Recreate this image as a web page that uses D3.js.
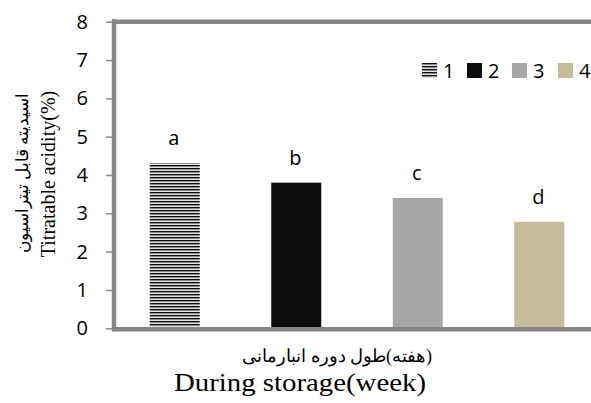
<!DOCTYPE html>
<html><head><meta charset="utf-8">
<script src="https://cdn.jsdelivr.net/npm/d3@7"></script>
<style>body{margin:0;background:#fff}svg{display:block}</style>
</head><body>
<script>
const categories = ["1","2","3","4"];
const values = [4.31, 3.80, 3.40, 2.78];
const letters = ["a","b","c","d"];
const yTicks = [0,1,2,3,4,5,6,7,8];
const colors = ["url(#stripes)","#0d0d0d","#a6a6a6","#c4bc96"];

(function(){
const W=591,H=403;
const svg=d3.select("body").append("svg").attr("width",W).attr("height",H);
const defs=svg.append("defs");
const pat=defs.append("pattern").attr("id","stripes").attr("patternUnits","userSpaceOnUse")
  .attr("width",4).attr("height",3);
pat.append("rect").attr("width",4).attr("height",3).attr("fill","#8a8a8a");
pat.append("rect").attr("y",0).attr("width",4).attr("height",1).attr("fill","#111");
pat.append("rect").attr("y",2).attr("width",4).attr("height",1).attr("fill","#e0e0e0");

const pL=114, pR=600, pT=21.7, pB=328.3;
const x=d3.scaleBand().domain(categories).range([pL,pR]);
const y=d3.scaleLinear().domain([0,8]).range([pB,pT]);
const bw=50;
const sans="'Open Sans',sans-serif";

svg.selectAll("rect.bar").data(values).enter().append("rect").attr("class","bar")
  .attr("x",(d,i)=>x(categories[i])+x.bandwidth()/2-bw/2)
  .attr("y",d=>y(d)).attr("width",bw).attr("height",d=>y(0)-y(d))
  .attr("fill",(d,i)=>colors[i]);

svg.selectAll("text.lab").data(values).enter().append("text").attr("class","lab")
  .attr("x",(d,i)=>x(categories[i])+x.bandwidth()/2-1)
  .attr("y",d=>y(d)-18).attr("text-anchor","middle")
  .attr("font-family",sans).attr("font-size",20).attr("fill","#000")
  .text((d,i)=>letters[i]);

const ax=d3.axisLeft(y).tickValues(yTicks).tickSize(8).tickPadding(18).tickFormat(d3.format("d"));
const g=svg.append("g").attr("transform",`translate(${pL},0)`).call(ax);
g.select(".domain").remove();
g.selectAll(".tick line").attr("stroke","#888").attr("stroke-width",1.5);
g.selectAll(".tick text").attr("font-family",sans).attr("font-size",20).attr("fill","#000");

svg.append("line").attr("x1",pL).attr("x2",pL).attr("y1",pT-2.5).attr("y2",pB+3).attr("stroke","#878787").attr("stroke-width",4.5);
svg.append("line").attr("x1",pL-2).attr("x2",W).attr("y1",pT).attr("y2",pT).attr("stroke","#878787").attr("stroke-width",4.5);
svg.append("line").attr("x1",pL-2).attr("x2",W).attr("y1",pB+1).attr("y2",pB+1).attr("stroke","#878787").attr("stroke-width",4.5);

const lx=[422,467,512,558];
const lg=svg.append("g");
categories.forEach((c,i)=>{
  lg.append("rect").attr("x",lx[i]).attr("y",63).attr("width",15).attr("height",15).attr("fill",colors[i]);
  lg.append("text").attr("x",lx[i]+21).attr("y",78).attr("font-family",sans)
    .attr("font-size",20).attr("fill","#000").text(c);
});

svg.append("text").attr("transform","translate(55,174) rotate(-90)").attr("text-anchor","middle")
  .attr("font-family","'Liberation Serif',serif").attr("font-size",20).text("Titratable acidity(%)");
svg.append("text").attr("transform","translate(28,173) rotate(-90)").attr("text-anchor","middle")
  .attr("font-family","'Liberation Serif',serif").attr("font-size",17).attr("direction","rtl").text("اسیدیته قابل تیتراسیون");
svg.append("text").attr("x",337).attr("y",362).attr("text-anchor","middle")
  .attr("font-family","'Liberation Serif',serif").attr("font-size",18).attr("direction","rtl").text("(هفته)طول دوره انبارمانی");
svg.append("text").attr("x",300).attr("y",391).attr("text-anchor","middle")
  .attr("font-family","'Liberation Serif',serif").attr("font-size",25)
  .attr("textLength",252).attr("lengthAdjust","spacingAndGlyphs").text("During storage(week)");
})();
</script>
</body></html>
